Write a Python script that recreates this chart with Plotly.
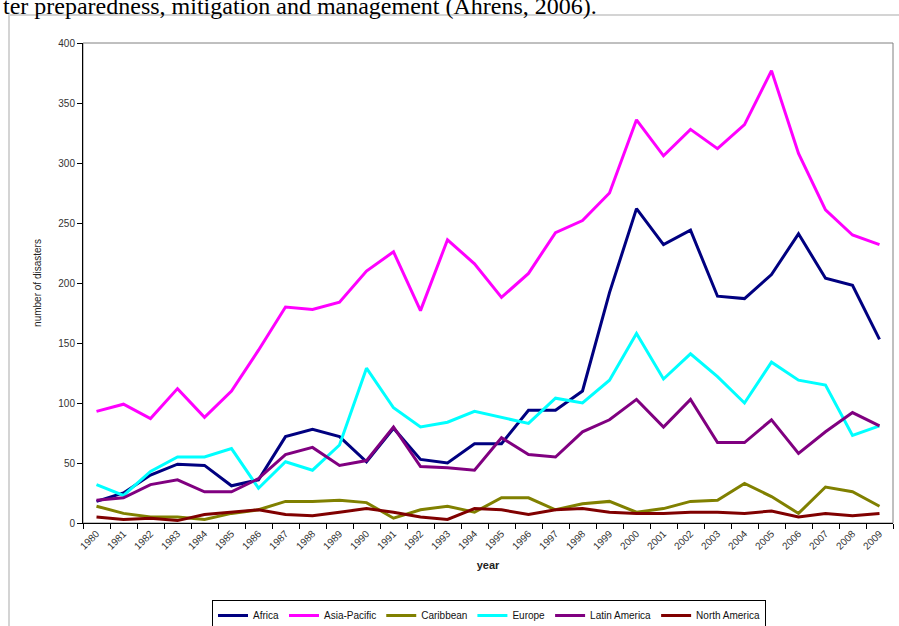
import plotly.graph_objects as go

years = [str(y) for y in range(1980, 2010)]

africa = [18, 25, 40, 49, 48, 31, 36, 72, 78, 72, 51, 79, 53, 50, 66, 66, 94, 94, 110, 192,
          262, 232, 244, 189, 187, 207, 241, 204, 198, 153]
asia_pacific = [93, 99, 87, 112, 88, 110, 144, 180, 178, 184, 210, 226, 177, 236, 216, 188, 208, 242, 252, 275,
                336, 306, 328, 312, 332, 377, 308, 261, 240, 232]
caribbean = [14, 8, 5, 5, 3, 8, 11, 18, 18, 19, 17, 4, 11, 14, 9, 21, 21, 11, 16, 18,
             9, 12, 18, 19, 33, 22, 8, 30, 26, 14]
europe = [32, 23, 43, 55, 55, 62, 29, 51, 44, 65, 129, 96, 80, 84, 93, 88, 83, 104, 100, 119,
          158, 120, 141, 122, 100, 134, 119, 115, 73, 81]
latin_america = [19, 21, 32, 36, 26, 26, 37, 57, 63, 48, 52, 80, 47, 46, 44, 71, 57, 55, 76, 86,
                 103, 80, 103, 67, 67, 86, 58, 76, 92, 81]
north_america = [5, 3, 4, 2, 7, 9, 11, 7, 6, 9, 12, 9, 5, 3, 12, 11, 7, 11, 12, 9,
                 8, 8, 9, 9, 8, 10, 5, 8, 6, 8]

series = [
    ("Africa", africa, "#000080"),
    ("Asia-Pacific", asia_pacific, "#FF00FF"),
    ("Caribbean", caribbean, "#808000"),
    ("Europe", europe, "#00FFFF"),
    ("Latin America", latin_america, "#800080"),
    ("North America", north_america, "#800000"),
]

W, H = 899, 626
L, R, T, B = 83, 893, 43, 523

def px(x):
    return (x - L) / (R - L)

def py(y):
    return (B - y) / (B - T)

fig = go.Figure()
for name, vals, col in series:
    fig.add_trace(go.Scatter(x=years, y=vals, mode="lines", name=name,
                             line=dict(color=col, width=3)))

fig.update_layout(
    width=W, height=H,
    margin=dict(l=L, r=W - R, t=T, b=H - B, autoexpand=False),
    paper_bgcolor="white", plot_bgcolor="white",
    font=dict(family="Arial, Liberation Sans, sans-serif", color="#222"),
    showlegend=True,
    legend=dict(orientation="h", x=px(489), xanchor="center", y=py(600), yanchor="top",
                bordercolor="black", borderwidth=1, font=dict(size=10, color="#111"),
                itemwidth=30, tracegroupgap=0),
    shapes=[
        dict(type="rect", xref="paper", yref="paper", x0=0, x1=1, y0=0, y1=1,
             line=dict(color="#808080", width=1), layer="below"),
        dict(type="rect", xref="paper", yref="paper", x0=px(9), x1=px(905), y0=py(15), y1=py(640),
             line=dict(color="#d4d4d4", width=2), layer="below"),
    ],
    annotations=[
        dict(text="ter preparedness, mitigation and management (Ahrens, 2006).",
             xref="paper", yref="paper", x=px(1), y=py(21), xanchor="left", yanchor="bottom",
             showarrow=False, font=dict(family="Liberation Serif, Times New Roman, serif",
                                        size=24, color="black")),
    ],
)

fig.update_xaxes(
    type="category", range=[-0.5, 29.5], automargin=False,
    showgrid=False, showline=True, linecolor="black", linewidth=1,
    ticks="outside", ticklen=5, tickcolor="black", tickson="boundaries",
    tickangle=-45, tickfont=dict(size=10, color="#333"),
    title=dict(text="<b>year</b>", font=dict(size=11, color="#222"), standoff=10),
)
fig.update_yaxes(
    range=[0, 400], dtick=50, automargin=False,
    showgrid=False, showline=True, linecolor="black", linewidth=1,
    ticks="outside", ticklen=5, tickcolor="black", zeroline=False,
    tickfont=dict(size=10, color="#333"),
    title=dict(text="number of disasters", font=dict(size=10, color="#222"), standoff=14),
)

fig.write_html("out.html", config={"displayModeBar": False},
               post_script="document.body.style.margin='0';document.body.style.overflow='hidden';")
